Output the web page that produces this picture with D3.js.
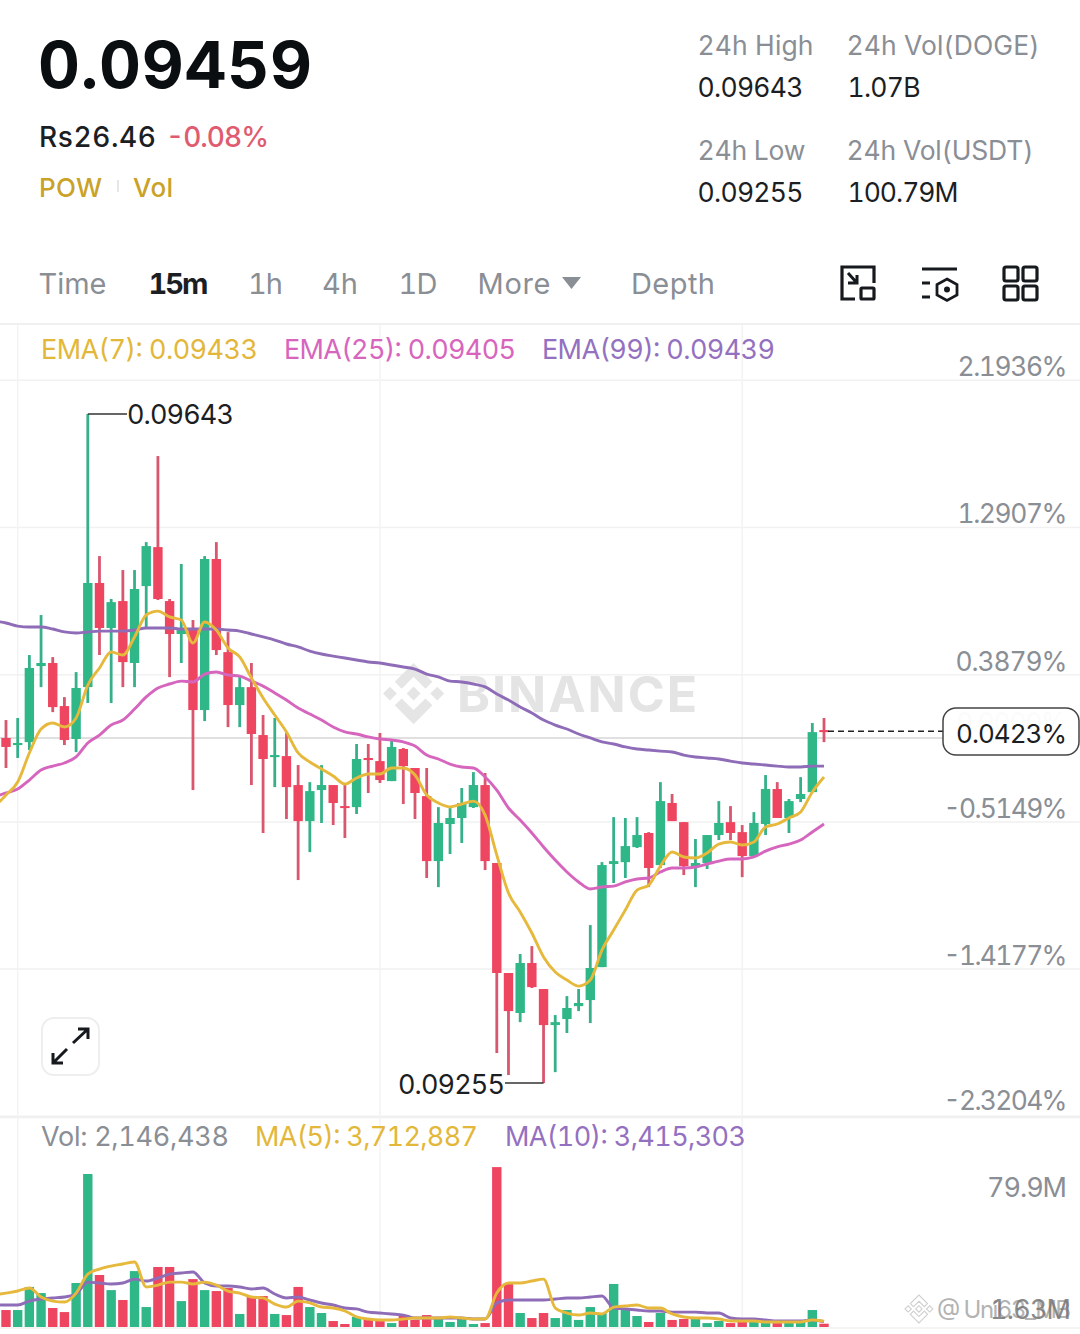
<!DOCTYPE html>
<html><head><meta charset="utf-8">
<script src="https://cdn.jsdelivr.net/npm/d3@7"></script>
<style>html,body{margin:0;padding:0;background:#fff;overflow:hidden}svg{display:block}text{font-family:Inter,Roboto,sans-serif;font-feature-settings:"tnum" 1;font-variant-numeric:tabular-nums}</style>
</head><body><svg id="c" width="1080" height="1334"></svg>
<script>
// Prices are in units of 0.00001 USDT. First entry of each array is the candle just off the left edge.
const opens=[9460,9455.1,9451.0,9452.7,9496.8,9498.6,9473.6,9454.5,9484.6,9545.0,9518.9,9534.5,9498.6,9543.2,9565.8,9534.5,9515.4,9517.7,9471.3,9558.9,9504.9,9474.2,9484.6,9456.8,9444.0,9444.6,9427.8,9406.9,9424.9,9427.8,9415.6,9415.0,9443.5,9441.7,9430.1,9448.7,9437.7,9421.4,9383.7,9405.2,9408.7,9415.0,9427.8,9382.6,9318.8,9295.6,9324.6,9309.5,9288.6,9292.1,9299.6,9303.1,9322.2,9382.0,9383.1,9391.8,9400.0,9381.4,9417.4,9406.3,9380.8,9382.6,9398.8,9406.3,9400.5,9386.6,9405.2,9425.5,9408.7,9419.7,9423.7,9459.7];
const closes=[9450,9449.9,9452.2,9495.7,9498.6,9473.0,9453.9,9484.1,9545.0,9518.9,9533.9,9499.1,9541.5,9566.4,9535.7,9515.4,9517.7,9471.3,9558.9,9506.1,9474.2,9484.6,9457.4,9442.9,9445.2,9426.6,9406.9,9424.3,9427.8,9417.4,9414.5,9442.9,9442.3,9430.7,9449.9,9438.8,9423.2,9383.7,9405.8,9408.7,9417.4,9427.8,9383.7,9318.8,9296.7,9324.6,9310.6,9288.6,9290.3,9298.5,9301.4,9321.7,9381.4,9383.7,9392.4,9398.8,9379.7,9418.5,9406.9,9380.8,9382.6,9398.8,9405.8,9400.0,9386.6,9405.8,9425.5,9408.7,9418.5,9422.6,9458.5,9458.5];
const highs=[9470,9465.5,9466.7,9503.2,9526.4,9502.0,9478.8,9493.3,9643,9560.6,9535.7,9552.5,9552.5,9568.7,9618.6,9535.7,9556.0,9523.5,9560.6,9568.7,9516.5,9490.4,9498.6,9468.4,9466.7,9458.0,9439.4,9429.5,9439.4,9427.8,9429.0,9451.6,9451.6,9458.0,9453.9,9449.3,9437.7,9437.7,9415.0,9414.5,9426.1,9435.3,9434.8,9382.6,9318.8,9329.8,9334.4,9309.5,9294.4,9305.4,9309.5,9346.6,9383.1,9409.2,9408.7,9409.2,9400.5,9429.5,9422.6,9406.3,9396.5,9398.8,9418.5,9415.6,9404.6,9412.1,9433.6,9429.5,9419.7,9432.4,9463.8,9466.7];
const lows=[9440,9437.7,9443.5,9448.1,9484.6,9470.1,9451.0,9446.9,9475.4,9503.2,9475.4,9484.6,9484.6,9519.4,9535.1,9490.4,9498.6,9424.9,9464.9,9503.2,9461.4,9461.4,9427.8,9400.0,9426.6,9408.1,9372.7,9388.9,9405.8,9404.6,9397.1,9411.0,9423.2,9429.0,9430.1,9416.8,9408.1,9373.9,9368.6,9387.8,9394.2,9414.5,9378.5,9272.4,9259.6,9290.3,9310.1,9255,9261.3,9284.0,9296.7,9289.8,9322.2,9371.0,9373.9,9391.3,9368.6,9379.7,9406.9,9375.6,9368.6,9379.1,9395.9,9395.9,9374.4,9386.0,9398.8,9408.7,9400.0,9417.9,9423.7,9452.7];
const ema7=[9415.1,9422.0,9429.6,9446.4,9460.3,9463.8,9461.5,9466.7,9485.8,9495.7,9505.0,9503.2,9513.7,9526.4,9528.7,9525.3,9523.5,9510.2,9522.4,9517.7,9507.3,9502.1,9489.9,9478.3,9468.4,9458.6,9446.4,9441.2,9437.1,9433.0,9428.4,9431.9,9434.2,9434.2,9437.7,9437.7,9433.6,9422.0,9417.4,9415.1,9416.8,9418.5,9410.4,9387.2,9365.2,9354.2,9342.0,9328.1,9319.4,9314.7,9311.2,9314.7,9332.1,9343.7,9355.3,9366.9,9369.8,9380.8,9389.0,9386.1,9385.5,9388.4,9393.6,9394.8,9393.0,9394.8,9403.5,9405.2,9408.7,9412.2,9423.8,9432.5];
const ema25=[9420.9,9423.2,9425.5,9430.7,9436.5,9438.8,9440.6,9444.1,9452.2,9456.8,9462.6,9465.5,9471.9,9478.9,9484.1,9486.4,9488.1,9487.6,9492.2,9493.4,9491.6,9491.0,9488.1,9485.2,9481.2,9477.1,9472.5,9469.0,9465.5,9461.5,9458.6,9457.4,9455.7,9454.5,9453.9,9452.8,9450.4,9445.2,9442.9,9440.0,9438.3,9437.7,9432.5,9424.9,9414.5,9407.5,9400.0,9391.9,9384.3,9377.4,9371.6,9367.5,9368.7,9369.2,9371.6,9373.3,9373.9,9377.4,9379.7,9379.7,9380.3,9382.0,9383.7,9384.9,9384.9,9386.1,9389.5,9391.9,9393.6,9395.9,9400.6,9405.2];
const ema99=[9522.9,9521.8,9520.0,9519.5,9519.5,9518.3,9516.6,9516.0,9516.6,9517.1,9517.1,9517.1,9517.7,9518.9,9518.9,9518.9,9518.3,9518.3,9518.3,9518.3,9517.7,9517.1,9515.4,9513.7,9511.9,9509.6,9507.9,9505.5,9503.8,9502.6,9501.5,9500.3,9499.2,9498.6,9497.4,9496.3,9495.1,9492.2,9490.5,9488.1,9487.6,9486.4,9484.7,9480.6,9477.1,9473.1,9469.6,9465.5,9462.6,9460.3,9457.4,9455.1,9452.8,9451.6,9449.9,9448.7,9448.1,9447.5,9447.0,9445.2,9444.1,9443.5,9442.9,9441.7,9440.6,9440.0,9439.4,9438.8,9438.3,9438.3,9438.8,9438.8];
// Volumes in millions of DOGE
const volumes=[10.0,10.8,10.8,25.5,21.6,12.1,9.5,28.0,97.4,33.1,23.5,17.2,35.6,12.7,38.2,38.2,16.5,30.5,23.5,22.9,24.8,8.3,19.1,19.7,8.3,7.6,25.5,12.7,8.9,3.8,1.9,6.4,5.1,3.8,2.5,7.6,4.5,7.6,5.7,3.2,5.7,1.9,2.5,101.8,28.0,8.9,5.7,8.9,5.7,10.8,4.5,12.7,8.9,27.4,10.8,7.0,3.2,8.9,4.5,5.1,5.1,2.5,3.8,2.5,3.8,3.2,3.2,2.5,3.2,3.2,10.8,2.1];
const ma5=[20.4,21.6,22.9,24.8,19.1,16.5,15.9,21.6,33.7,36.9,38.8,40.1,41.4,25.5,26.7,28.6,28.6,27.4,28.6,26.7,22.9,21.6,19.1,18.5,14.6,12.7,16.5,15.3,12.7,12.1,10.2,6.4,5.1,4.5,4.5,5.1,5.7,5.7,5.7,6.4,5.7,5.1,5.1,21.6,28.0,28.0,29.3,30.5,12.1,8.9,7.6,8.9,8.3,12.7,13.4,14.0,12.1,12.1,8.3,6.4,5.7,5.7,5.1,3.8,3.8,3.8,3.2,3.2,3.2,3.2,4.5,3.7];
const ma10=[14.0,14.0,14.0,16.5,17.8,18.5,19.1,21.0,28.6,28.0,27.4,28.0,30.5,29.3,31.2,33.7,34.4,35.0,28.0,26.1,26.1,25.5,24.2,24.8,21.0,18.5,19.1,17.2,15.3,14.0,12.1,11.5,9.5,8.9,8.3,7.6,5.7,5.7,5.7,5.7,5.7,5.1,5.1,15.3,17.2,17.2,17.2,17.2,17.8,18.5,18.5,19.1,19.7,12.1,11.5,10.8,10.2,10.2,9.5,9.5,9.5,8.9,8.9,5.7,5.1,5.1,4.5,3.8,3.8,3.8,4.5,3.4];
const percentTicks=[2.1936,1.2907,0.3879,-0.5149,-1.4177,-2.3204];
const percentLabels=["2.1936%","1.2907%","0.3879%","-0.5149%","-1.4177%","-2.3204%"];
const refPrice=9455.1, lastPrice=9459, hiPrice=9643, loPrice=9255;
const volTicks=[79.9,1.63], volLabels=["79.9M","1.63M"];
const gridIdx=[2,33,64];

const GREEN="#2fb787",RED="#ee4660",GOLD="#e6b93c",PINK="#d665bd",PURP="#8e6cb8",GRAY="#8a8e95",DARK="#1b1e23";
const svg=d3.select("#c");
const x=d3.scaleLinear().domain([0,71]).range([-5.69,824]);
const y=d3.scaleLinear().domain([hiPrice,loPrice]).range([414,1083]);
const yp=p=>y(refPrice*(1+p/100));
const v=d3.scaleLinear().domain([0,79.9]).range([1327,1201.5]);
const idx=d3.range(opens.length);
const FS=27;
function T(s,tx,ty,o={}){const t=svg.append("text").attr("x",tx).attr("y",ty).attr("font-size",o.size||FS)
  .attr("font-weight",o.w||400).attr("fill",o.c||DARK).attr("text-anchor",o.a||"start").attr("opacity",o.op==null?1:o.op).text(s);
  if(o.len)t.attr("textLength",o.len);return t;}
const LOGO="M38.73 53.2l24.59-24.58 24.6 24.6 14.3-14.31L63.32 0 24.42 38.9l14.31 14.3zM0 63.31l14.3-14.31 14.31 14.31-14.31 14.3zM38.73 73.41l24.59 24.59 24.6-24.6 14.31 14.29-38.9 38.91-38.91-38.88-.02-.02zM98 63.31l14.3-14.31 14.31 14.3-14.31 14.32zM77.83 63.3L63.32 48.78 52.59 59.51l-1.24 1.23-2.54 2.54 14.51 14.5 14.51-14.47z";

// grid
svg.append("g").selectAll("line").data(percentTicks).join("line").attr("x1",0).attr("x2",1080)
  .attr("y1",d=>yp(d)).attr("y2",d=>yp(d)).attr("stroke","#f1f1f1").attr("stroke-width",1.5);
[324,1117.5,1328].forEach(g=>svg.append("line").attr("x1",0).attr("x2",1080).attr("y1",g).attr("y2",g).attr("stroke","#f0f0f0").attr("stroke-width",g==324?2:1.5));
svg.append("g").selectAll("line").data(gridIdx).join("line").attr("x1",d=>x(d)).attr("x2",d=>x(d))
  .attr("y1",325).attr("y2",1327).attr("stroke","#f3f3f3").attr("stroke-width",1.5);

// BINANCE watermark
svg.append("path").attr("d",LOGO).attr("fill","#e5e5e5").attr("transform","translate(383,663) scale(0.483)");
T("BINANCE",457,712,{size:50,w:700,c:"#e4e4e4",len:240});

// zero line
svg.append("line").attr("x1",0).attr("x2",943).attr("y1",yp(0)).attr("y2",yp(0)).attr("stroke","#d6d6d6").attr("stroke-width",1.5);

// candles
const BW=9.4;
const gc=svg.append("g").selectAll("g").data(idx).join("g");
gc.append("line").attr("x1",i=>x(i)).attr("x2",i=>x(i)).attr("y1",i=>y(highs[i])).attr("y2",i=>y(lows[i]))
  .attr("stroke",i=>closes[i]>=opens[i]?"#36b08a":"#d9566f").attr("stroke-width",2.8);
gc.append("rect").attr("x",i=>x(i)-BW/2).attr("width",BW).attr("y",i=>y(Math.max(opens[i],closes[i])))
  .attr("height",i=>Math.max(2,Math.abs(y(opens[i])-y(closes[i])))).attr("fill",i=>closes[i]>=opens[i]?GREEN:RED);

// EMA lines
const ln=(arr,sc)=>d3.line().x((d,i)=>x(i)).y(d=>sc(d)).curve(d3.curveMonotoneX)(arr);
[[ema99,PURP],[ema25,PINK],[ema7,GOLD]].forEach(([a,c])=>svg.append("path").attr("d",ln(a,y)).attr("fill","none").attr("stroke",c).attr("stroke-width",2.9));

// extreme callouts
svg.append("path").attr("d",`M${x(8)},${y(hiPrice)}H127`).attr("stroke","#333").attr("fill","none").attr("stroke-width",1.5);
T("0.09643",127,424,{len:107});
svg.append("path").attr("d",`M505,${y(loPrice)}H${x(47)}`).attr("stroke","#333").attr("fill","none").attr("stroke-width",1.5);
T("0.09255",398,1094,{len:107});

// right axis
const labBase=[376,523,671,818,965,1110];
const labLen=[110,110,112,124,124,124];
percentLabels.forEach((s,i)=>T(s,1067.5,labBase[i],{a:"end",c:GRAY,size:26.4,len:labLen[i]}));
T("0.0000%",1067,732,{a:"end",c:"#e8e8e8",size:26.4,len:111});
svg.append("line").attr("x1",828).attr("x2",943).attr("y1",y(lastPrice)).attr("y2",y(lastPrice)).attr("stroke","#222").attr("stroke-width",1.5).attr("stroke-dasharray","6 4");
svg.append("rect").attr("x",943).attr("y",708).attr("width",136).attr("height",47).attr("rx",13).attr("fill","#fff").attr("fill-opacity",0.82).attr("stroke","#444").attr("stroke-width",1.5);
T("0.0423%",1067,743,{a:"end",size:26,len:111});

// volume
svg.append("g").selectAll("rect").data(idx).join("rect").attr("x",i=>x(i)-BW/2).attr("width",BW)
  .attr("y",i=>v(volumes[i])).attr("height",i=>v(0)-v(volumes[i])).attr("fill",i=>closes[i]>=opens[i]?GREEN:RED);
[[ma10,PURP],[ma5,GOLD]].forEach(([a,c])=>svg.append("path").attr("d",ln(a,v)).attr("fill","none").attr("stroke",c).attr("stroke-width",2.9));
T(volLabels[0],1067,1197,{a:"end",c:GRAY,len:80});

// photo credit watermark
svg.append("path").attr("d",LOGO).attr("fill","#fff").attr("stroke","#cfcfcf").attr("stroke-width",5).attr("transform","translate(905,1295) scale(0.22)");
T("@ Uni63_MB",937,1318,{size:24,c:"#9a9a9a",op:0.75,len:134});
T(volLabels[1],1071,1319,{a:"end",c:"#777",op:0.85,size:27,len:81});

// header
T("0.09459",38,88,{size:65,w:700,c:"#0b0e11",len:274});
T("Rs26.46",39,147,{size:28,w:500,len:117});
T("-0.08%",166,147,{size:28,w:500,c:"#df5c70",len:103});
T("POW",39,197,{size:26,w:500,c:"#c9a227",len:63});
svg.append("line").attr("x1",118).attr("x2",118).attr("y1",180).attr("y2",192).attr("stroke","#e6e6e6").attr("stroke-width",2);
T("Vol",133,197,{size:26,w:500,c:"#c9a227",len:40});
[["24h High",697.500,55,GRAY,116],["24h Vol(DOGE)",846.500,55,GRAY,193],["0.09643",697.500,97,DARK,106],["1.07B",847.500,97,DARK,73],
 ["24h Low",697.500,160,GRAY,108],["24h Vol(USDT)",846.500,160,GRAY,187],["0.09255",697.500,202,DARK,106],["100.79M",847.500,202,DARK,111]]
 .forEach(([s,a,b,c,len])=>T(s,a,b,{c,size:26.5,len}));

// tabs
[["Time",38.500,GRAY,400,68],["15m",148.500,DARK,700,60],["1h",248,GRAY,400,35],["4h",322,GRAY,400,36],["1D",398.500,GRAY,400,39],["More",477.500,GRAY,400,73],["Depth",631,GRAY,400,84]]
 .forEach(([s,a,c,w,len])=>T(s,a,294,{size:29,c,w,len}));
svg.append("path").attr("d","M562,277H581L571.5,289Z").attr("fill",GRAY);
const ic=svg.append("g").attr("fill","none").attr("stroke","#16191d").attr("stroke-width",3.2);
ic.append("path").attr("d","M855,299H842V267H874V283");
ic.append("path").attr("d","M848,273L857,283M848,283H857V275").attr("stroke-width",3);
ic.append("rect").attr("x",861).attr("y",288).attr("width",13).attr("height",11).attr("rx",1);
ic.append("path").attr("d","M922,269H957M922,283H930M922,297H930");
ic.append("path").attr("d","M947,279L957,284.500V295L947,300.500L937,295V284.500Z").attr("stroke-width",2.8);
svg.append("circle").attr("cx",947).attr("cy",289.500).attr("r",3).attr("fill","#16191d");
[[1004,267],[1023,267],[1004,286],[1023,286]].forEach(([a,b])=>ic.append("rect").attr("x",a).attr("y",b).attr("width",14).attr("height",14).attr("rx",2));

// indicator legends
T("EMA(7): 0.09433",41,359,{c:"#e3b73a",len:217});
T("EMA(25): 0.09405",284,359,{c:"#d765be",len:232});
T("EMA(99): 0.09439",542,359,{c:"#9471c0",len:233});
T("Vol: 2,146,438",41,1146,{c:GRAY,len:188});
T("MA(5): 3,712,887",255,1146,{c:"#e3b73a",len:223});
T("MA(10): 3,415,303",505,1146,{c:"#9471c0",len:241});

// expand button
svg.append("rect").attr("x",42).attr("y",1018).attr("width",57).attr("height",57).attr("rx",12).attr("fill","#fff").attr("stroke","#eeeeee").attr("stroke-width",2);
svg.append("path").attr("d","M73,1043L88,1029M78,1029H88V1039M67,1049L53,1063M53,1053V1063H63").attr("fill","none").attr("stroke","#16191d").attr("stroke-width",3);
</script></body></html>
